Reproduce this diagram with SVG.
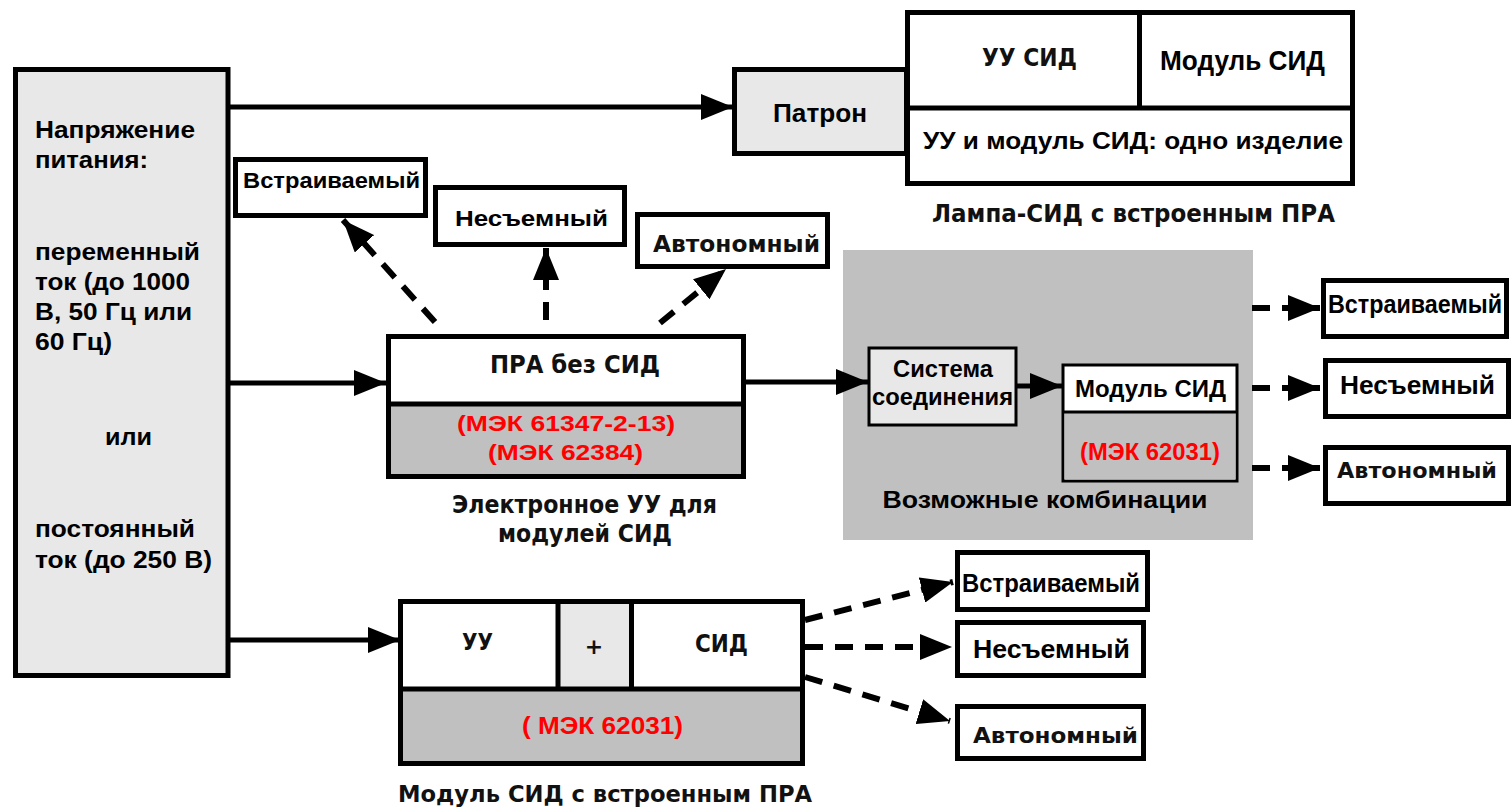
<svg xmlns="http://www.w3.org/2000/svg" width="1512" height="811" viewBox="0 0 1512 811">
<style>
.box{stroke:#000;stroke-width:5;fill:#fff}
.thin{stroke:#000;stroke-width:3}
.lg{fill:#e8e8e8}
.dg{fill:#c0c0c0}
.t{font-family:"Liberation Sans",Arial,sans-serif;font-weight:bold;fill:#000}
.p{font-family:"DejaVu Sans",sans-serif;font-weight:bold;fill:#111}
.r{font-family:"Liberation Sans",Arial,sans-serif;font-weight:bold;fill:#ff0000}
.m{text-anchor:middle}
.sol{stroke:#000;stroke-width:5;fill:none}
.dash{stroke:#000;stroke-width:6;fill:none;stroke-dasharray:18 12}
</style>
<defs>
<marker id="ah" viewBox="0 0 32 26" refX="32" refY="13" markerWidth="32" markerHeight="26" markerUnits="userSpaceOnUse" orient="auto">
<path d="M0,0 L32,13 L0,26 z" fill="#000"/>
</marker>
</defs>
<rect width="1512" height="811" fill="#fff"/>

<g id="combo-area">
<rect x="843" y="250" width="410" height="290" class="dg"/>
<text x="1045" y="508" class="t m" font-size="23" textLength="325" lengthAdjust="spacingAndGlyphs">Возможные комбинации</text>
</g>

<g id="connectors">
<path d="M230,107 H733" class="sol" marker-end="url(#ah)"/>
<path d="M230,383 H386" class="sol" marker-end="url(#ah)"/>
<path d="M230,640 H400" class="sol" marker-end="url(#ah)"/>
<path d="M746,382 H868" class="sol" marker-end="url(#ah)"/>
<path d="M1017,386 H1062" class="sol" marker-end="url(#ah)"/>
<path d="M435,322 L343,220" class="dash" marker-end="url(#ah)"/>
<path d="M546,320 V248" class="dash" marker-end="url(#ah)"/>
<path d="M660,323 L726,269" class="dash" marker-end="url(#ah)"/>
<path d="M1252,308 H1320" class="dash" stroke-dasharray="10 15" marker-end="url(#ah)"/>
<path d="M1252,388 H1320" class="dash" stroke-dasharray="10 15" marker-end="url(#ah)"/>
<path d="M1252,468 H1320" class="dash" stroke-dasharray="10 15" marker-end="url(#ah)"/>
<path d="M805,620 L953,582" class="dash" marker-end="url(#ah)"/>
<path d="M805,647 H952" class="dash" marker-end="url(#ah)"/>
<path d="M805,677 L950,721" class="dash" marker-end="url(#ah)"/>
</g>

<g id="power">
<rect x="15.5" y="69.5" width="212.5" height="606" class="box lg"/>
<g class="t" font-size="24">
<text x="35" y="138" textLength="160" lengthAdjust="spacingAndGlyphs">Напряжение</text>
<text x="35" y="168" textLength="113" lengthAdjust="spacingAndGlyphs">питания:</text>
<text x="35" y="260" textLength="165" lengthAdjust="spacingAndGlyphs">переменный</text>
<text x="35" y="290" textLength="155" lengthAdjust="spacingAndGlyphs">ток (до 1000</text>
<text x="35" y="320" textLength="157" lengthAdjust="spacingAndGlyphs">В, 50 Гц или</text>
<text x="35" y="350" textLength="77" lengthAdjust="spacingAndGlyphs">60 Гц)</text>
<text x="105" y="445" textLength="47" lengthAdjust="spacingAndGlyphs">или</text>
<text x="35" y="537" textLength="160" lengthAdjust="spacingAndGlyphs">постоянный</text>
<text x="35" y="568" textLength="177" lengthAdjust="spacingAndGlyphs">ток (до 250 В)</text>
</g>
</g>

<g id="patron">
<rect x="734.5" y="69.5" width="172" height="84" class="box lg"/>
<text x="773" y="122" class="t" font-size="25" textLength="94" lengthAdjust="spacingAndGlyphs">Патрон</text>
</g>

<g id="lamp">
<rect x="907.5" y="12.5" width="445" height="171" class="box"/>
<path d="M907.5,108 H1352.5 M1139.5,12.5 V108" class="sol"/>
<text x="982" y="66" class="p" font-size="25" textLength="95" lengthAdjust="spacingAndGlyphs">УУ СИД</text>
<text x="1160" y="70" class="t" font-size="27" textLength="165" lengthAdjust="spacingAndGlyphs">Модуль СИД</text>
<rect x="918" y="125" width="432" height="33" fill="#fff"/>
<text x="923" y="149" class="t" font-size="24" textLength="420" lengthAdjust="spacingAndGlyphs">УУ и модуль СИД: одно изделие</text>
<text x="932" y="222" class="p" font-size="25" textLength="403" lengthAdjust="spacingAndGlyphs">Лампа-СИД с встроенным ПРА</text>
</g>

<g id="emb1">
<rect x="235.5" y="159.5" width="190" height="56" class="box"/>
<text x="243" y="188" class="t" font-size="22" textLength="177" lengthAdjust="spacingAndGlyphs">Встраиваемый</text>
</g>
<g id="fix1">
<rect x="435.5" y="187.5" width="189" height="57" class="box"/>
<text x="455" y="226" class="t" font-size="22" textLength="153" lengthAdjust="spacingAndGlyphs">Несъемный</text>
</g>
<g id="ind1">
<rect x="637.5" y="214.5" width="190" height="52" class="box"/>
<text x="653" y="252" class="p" font-size="23" textLength="167" lengthAdjust="spacingAndGlyphs">Автономный</text>
</g>

<g id="ballast">
<rect x="388.5" y="336.5" width="355" height="140" class="box"/>
<rect x="391" y="405" width="350" height="69" class="dg"/>
<path d="M388.5,404 H743.5" class="sol"/>
<text x="490" y="373" class="p" font-size="24" textLength="170" lengthAdjust="spacingAndGlyphs">ПРА без СИД</text>
<text x="457" y="431" class="r" font-size="22" textLength="218" lengthAdjust="spacingAndGlyphs">(МЭК 61347-2-13)</text>
<text x="488" y="460" class="r" font-size="22" textLength="155" lengthAdjust="spacingAndGlyphs">(МЭК 62384)</text>
<text x="452" y="513" class="p" font-size="24" textLength="265" lengthAdjust="spacingAndGlyphs">Электронное УУ для</text>
<text x="498" y="542" class="p" font-size="24" textLength="174" lengthAdjust="spacingAndGlyphs">модулей СИД</text>
</g>

<g id="connect-sys">
<rect x="869" y="348" width="147" height="77" class="thin lg"/>
<text x="893" y="377" class="t" font-size="23" textLength="100" lengthAdjust="spacingAndGlyphs">Система</text>
<text x="872" y="405" class="t" font-size="23" textLength="141" lengthAdjust="spacingAndGlyphs">соединения</text>
</g>

<g id="ledmod">
<rect x="1063" y="365" width="174" height="116" class="thin" fill="#fff"/>
<rect x="1064.5" y="413" width="171" height="66.5" class="dg"/>
<path d="M1063,412 H1237" class="thin"/>
<text x="1075" y="397" class="t" font-size="24" textLength="151" lengthAdjust="spacingAndGlyphs">Модуль СИД</text>
<text x="1080" y="460" class="r" font-size="23" textLength="140" lengthAdjust="spacingAndGlyphs">(МЭК 62031)</text>
</g>

<g id="emb2">
<rect x="1323.5" y="280.5" width="183" height="56" class="box"/>
<text x="1328" y="313" class="t" font-size="25" textLength="174" lengthAdjust="spacingAndGlyphs">Встраиваемый</text>
</g>
<g id="fix2">
<rect x="1325.5" y="360.5" width="183" height="56" class="box"/>
<text x="1340" y="394" class="t" font-size="25" textLength="155" lengthAdjust="spacingAndGlyphs">Несъемный</text>
</g>
<g id="ind2">
<rect x="1325.5" y="447.5" width="183" height="56" class="box"/>
<text x="1337" y="478" class="p" font-size="22" textLength="160" lengthAdjust="spacingAndGlyphs">Автономный</text>
</g>

<g id="ledmod-integrated">
<rect x="400.5" y="601.5" width="402" height="162" class="box"/>
<rect x="403" y="690" width="397" height="71" class="dg"/>
<rect x="558" y="604" width="73" height="84" class="lg"/>
<path d="M400.5,689 H802.5 M558,601.5 V689 M631.5,601.5 V689" class="sol"/>
<text x="462" y="650" class="p" font-size="23" textLength="31" lengthAdjust="spacingAndGlyphs">УУ</text>
<text x="594" y="654" class="p m" font-size="22">+</text>
<text x="695" y="652" class="p" font-size="25" textLength="53" lengthAdjust="spacingAndGlyphs">СИД</text>
<text x="522" y="734" class="r" font-size="23" textLength="161" lengthAdjust="spacingAndGlyphs">( МЭК 62031)</text>
<text x="398" y="802" class="p" font-size="23" textLength="414" lengthAdjust="spacingAndGlyphs">Модуль СИД с встроенным ПРА</text>
</g>

<g id="emb3">
<rect x="957.5" y="552.5" width="190" height="57" class="box"/>
<text x="962" y="592" class="t" font-size="26" textLength="178" lengthAdjust="spacingAndGlyphs">Встраиваемый</text>
</g>
<g id="fix3">
<rect x="957.5" y="622.5" width="186" height="53" class="box"/>
<text x="973" y="658" class="t" font-size="26" textLength="157" lengthAdjust="spacingAndGlyphs">Несъемный</text>
</g>
<g id="ind3">
<rect x="957.5" y="706.5" width="186" height="52" class="box"/>
<text x="973" y="743" class="p" font-size="22" textLength="165" lengthAdjust="spacingAndGlyphs">Автономный</text>
</g>
</svg>
